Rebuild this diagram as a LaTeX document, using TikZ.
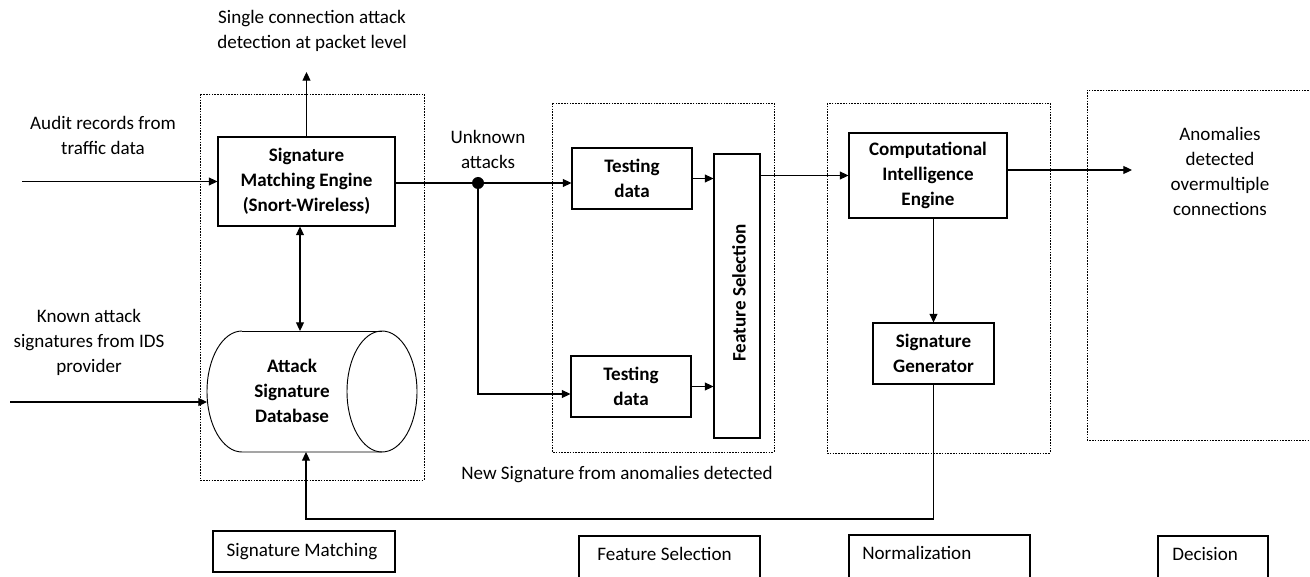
\documentclass[tikz,border=0pt]{standalone}
\usepackage{fontspec}
\setmainfont{Carlito}
\usetikzlibrary{arrows.meta}
\begin{document}
\begin{tikzpicture}[x=0.75pt,y=-0.75pt,
  every node/.style={font=\fontsize{14.3}{18.75}\selectfont, align=center, inner sep=0pt},
  blk/.style={draw, line width=0.8pt, font=\bfseries\fontsize{14.3}{18.75}\selectfont},
  dbox/.style={draw, line width=0.6pt, dash pattern=on 1.2pt off 0.9pt},
  ln/.style={line width=0.8pt},
  arr/.style={line width=0.8pt, -{Triangle[length=6.5pt,width=6pt]}},
  darr/.style={line width=0.8pt, {Triangle[length=6.5pt,width=6pt]}-{Triangle[length=6.5pt,width=6pt]}},
  lbox/.style={draw, line width=0.8pt}]
\useasboundingbox (0,0) rectangle (1310,577);
\clip (0,0) rectangle (1310,577);

% dashed stage boxes
\draw[dbox] (200,94) rectangle (424,480);
\draw[dbox] (552,103) rectangle (774,452);
\draw[dbox] (827,103) rectangle (1050,453);
\draw[dbox] (1320,90) -- (1087,90) -- (1087,440) -- (1320,440);

% blocks
\node[blk, minimum width=132.75pt, minimum height=66.75pt] (eng) at (306.5,181.5) {Signature\\Matching Engine\\(Snort-Wireless)};
\node[blk, minimum width=90pt, minimum height=45.75pt] (td1) at (632,178.5) {Testing\\data};
\node[blk, minimum width=90pt, minimum height=45.75pt] (td2) at (631,386.5) {Testing\\data};
\node[draw, line width=0.8pt, minimum width=34.5pt, minimum height=213pt] (fs) at (737,296) {};
\node[font=\bfseries\fontsize{14.3}{18.75}\selectfont, rotate=90] (fslab) at (739,293) {Feature Selection};
\node[blk, minimum width=118.5pt, minimum height=63.75pt] (ci) at (928,175.5) {Computational\\Intelligence\\Engine};
\node[blk, minimum width=90.75pt, minimum height=45.75pt] (sg) at (933.5,353.5) {Signature\\Generator};

% database cylinder
\draw[line width=0.7pt] (242,331) arc[start angle=270, end angle=90, x radius=35, y radius=60.5] -- (382,452);
\draw[line width=0.7pt] (382,331) -- (242,331);
\draw[line width=0.7pt] (382,391.5) ellipse [x radius=35, y radius=60.5];
\node[font=\bfseries\fontsize{14.3}{18.75}\selectfont] (db) at (292,391) {Attack\\Signature\\Database};
\coordinate (cyltop) at (300,331);
\coordinate (cylbot) at (306,452);
\coordinate (cylleft) at (207,402);

% free texts
\node (audit) at (103,135.5) {Audit records from\\traffic data};
\node (single) at (312,30.5) {Single connection attack\\detection at packet level};
\node (known) at (89,342.5) {Known attack\\signatures from IDS\\provider};
\node (unknown) at (488,149) {Unknown\\attacks};
\node (newsig) at (617,475) {New Signature from anomalies detected};
\node (anom) at (1220,171) {Anomalies\\detected\\overmultiple\\connections};

% bottom stage labels
\node[lbox, minimum width=136.5pt, minimum height=30.75pt] (smbox) at (304,551.5) {};
\node (smlab) at (302,552) {Signature Matching};
\draw[lbox] (579,600) -- (579,536) -- (760,536) -- (760,600);
\node[anchor=west] (fslabb) at (597,554) {Feature Selection};
\draw[lbox] (849,600) -- (849,535) -- (1030,535) -- (1030,600);
\node[anchor=west] (normlab) at (862,553) {Normalization};
\draw[lbox] (1158,600) -- (1158,536) -- (1268,536) -- (1268,600);
\node[anchor=west] (declab) at (1172,554) {Decision};

% coordinates
\coordinate (in1) at (22,181.5);
\coordinate (out1) at (306.5,72);
\coordinate (kin) at (10,402);
\coordinate (dot) at (478,183);
\coordinate (br) at (478,394);
\coordinate (aout) at (1132,170);
\coordinate (fb) at (306,519);

\fill (dot) circle[radius=6];

% connectors
\draw[arr] (in1) -- (eng.west);
\draw[arr] (eng.north) -- (out1);
\draw[darr] (eng.south -| cyltop) -- (cyltop);
\draw[arr] (kin) -- (cylleft);
\draw[ln] (eng.east |- dot) -- (dot);
\draw[arr] (dot) -- (dot -| td1.west);
\draw[arr] (dot) -- (br) -- (br -| td2.west);
\draw[arr] (td1.east) -- (td1.east -| fs.west);
\draw[arr] (td2.east) -- (td2.east -| fs.west);
\draw[arr] (ci.west -| fs.east) -- (ci.west);
\draw[arr] (aout -| ci.east) -- (aout);
\draw[arr] (sg.north |- ci.south) -- (sg.north);
\draw[arr] (sg.south) |- (fb) -- (cylbot);
\end{tikzpicture}
\end{document}
